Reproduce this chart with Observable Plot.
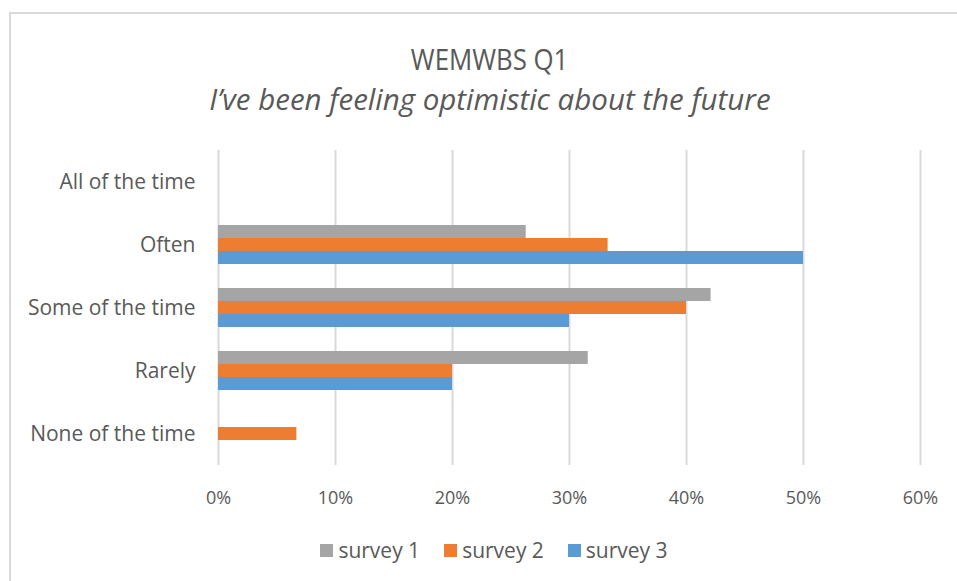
<!DOCTYPE html>
<html>
<head>
<meta charset="utf-8">
<script src="https://cdn.jsdelivr.net/npm/d3@7"></script>
<script src="https://cdn.jsdelivr.net/npm/@observablehq/plot@0.6"></script>
<style>
  html, body { margin: 0; padding: 0; background: #fff; }
  #wrap { position: relative; width: 957px; height: 581px; overflow: hidden; background: #fff; font-family: "Open Sans", sans-serif; color: #595959; }
  #frame { position: absolute; left: 9px; top: 12px; width: 1000px; height: 700px; border-left: 2px solid #d9d9d9; border-top: 2px solid #d9d9d9; }
  #title { position: absolute; left: 10px; width: 960px; top: 40px; text-align: center; font-size: 30px; line-height: 38px; font-weight: 400; }
  #title span { display: inline-block; transform: scaleX(0.86); }
  #subtitle { position: absolute; left: 10px; width: 960px; top: 81px; text-align: center; font-size: 29.5px; line-height: 36px; font-style: italic; font-weight: 400; }
  #chart { position: absolute; left: 0; top: 130px; }
  #legend { position: absolute; left: 10px; width: 968px; top: 535px; display: flex; justify-content: center; gap: 24px; font-size: 21px; line-height: 30px; }
  .item { display: flex; align-items: center; gap: 5px; }
  .sw { width: 13px; height: 13px; display: inline-block; }
</style>
</head>
<body>
<div id="wrap">
  <div id="frame"></div>
  <div id="title"><span>WEMWBS Q1</span></div>
  <div id="subtitle">I’ve been feeling optimistic about the future</div>
  <div id="chart"></div>
  <div id="legend"></div>
</div>
<script>
const categories = ["All of the time", "Often", "Some of the time", "Rarely", "None of the time"];
const series = ["survey 1", "survey 2", "survey 3"];
const survey1 = [0, 0.263, 0.421, 0.316, 0];
const survey2 = [0, 0.333, 0.400, 0.200, 0.067];
const survey3 = [0, 0.500, 0.300, 0.200, 0];
const xTicks = [0, 0.1, 0.2, 0.3, 0.4, 0.5, 0.6];
const colors = ["#A5A5A5", "#ED7D31", "#5B9BD5"];

const values = [survey1, survey2, survey3];
const data = [];
categories.forEach((c, i) => {
  series.forEach((s, j) => data.push({category: c, series: s, value: values[j][i]}));
});

const chart = Plot.plot({
  width: 957,
  height: 390,
  marginTop: 20,
  marginBottom: 55,
  marginLeft: 218,
  marginRight: 37,
  style: {fontFamily: "'Open Sans', sans-serif", background: "transparent"},
  x: {domain: [0, 0.6], axis: null},
  y: {domain: series, paddingInner: 0, paddingOuter: 0.91, axis: null},
  fy: {domain: categories, padding: 0, axis: null},
  color: {domain: series, range: colors},
  marks: [
    Plot.gridX(xTicks, {stroke: "#d9d9d9", strokeOpacity: 1, strokeWidth: 2}),
    Plot.barX(data, {x: "value", y: "series", fy: "category", fill: "series"}),
    Plot.axisX(xTicks, {anchor: "bottom", tickSize: 0, tickPadding: 26, tickFormat: d => Math.round(d * 100) + "%", fontSize: 18, color: "#595959", label: null}),
    Plot.axisFy({anchor: "left", tickSize: 0, tickPadding: 23, fontSize: 21, color: "#595959", label: null})
  ]
});
document.getElementById("chart").appendChild(chart);

const legend = document.getElementById("legend");
series.forEach((s, i) => {
  const item = document.createElement("span");
  item.className = "item";
  const sw = document.createElement("span");
  sw.className = "sw";
  sw.style.background = colors[i];
  const t = document.createElement("span");
  t.textContent = s;
  item.appendChild(sw);
  item.appendChild(t);
  legend.appendChild(item);
});
</script>
</body>
</html>
